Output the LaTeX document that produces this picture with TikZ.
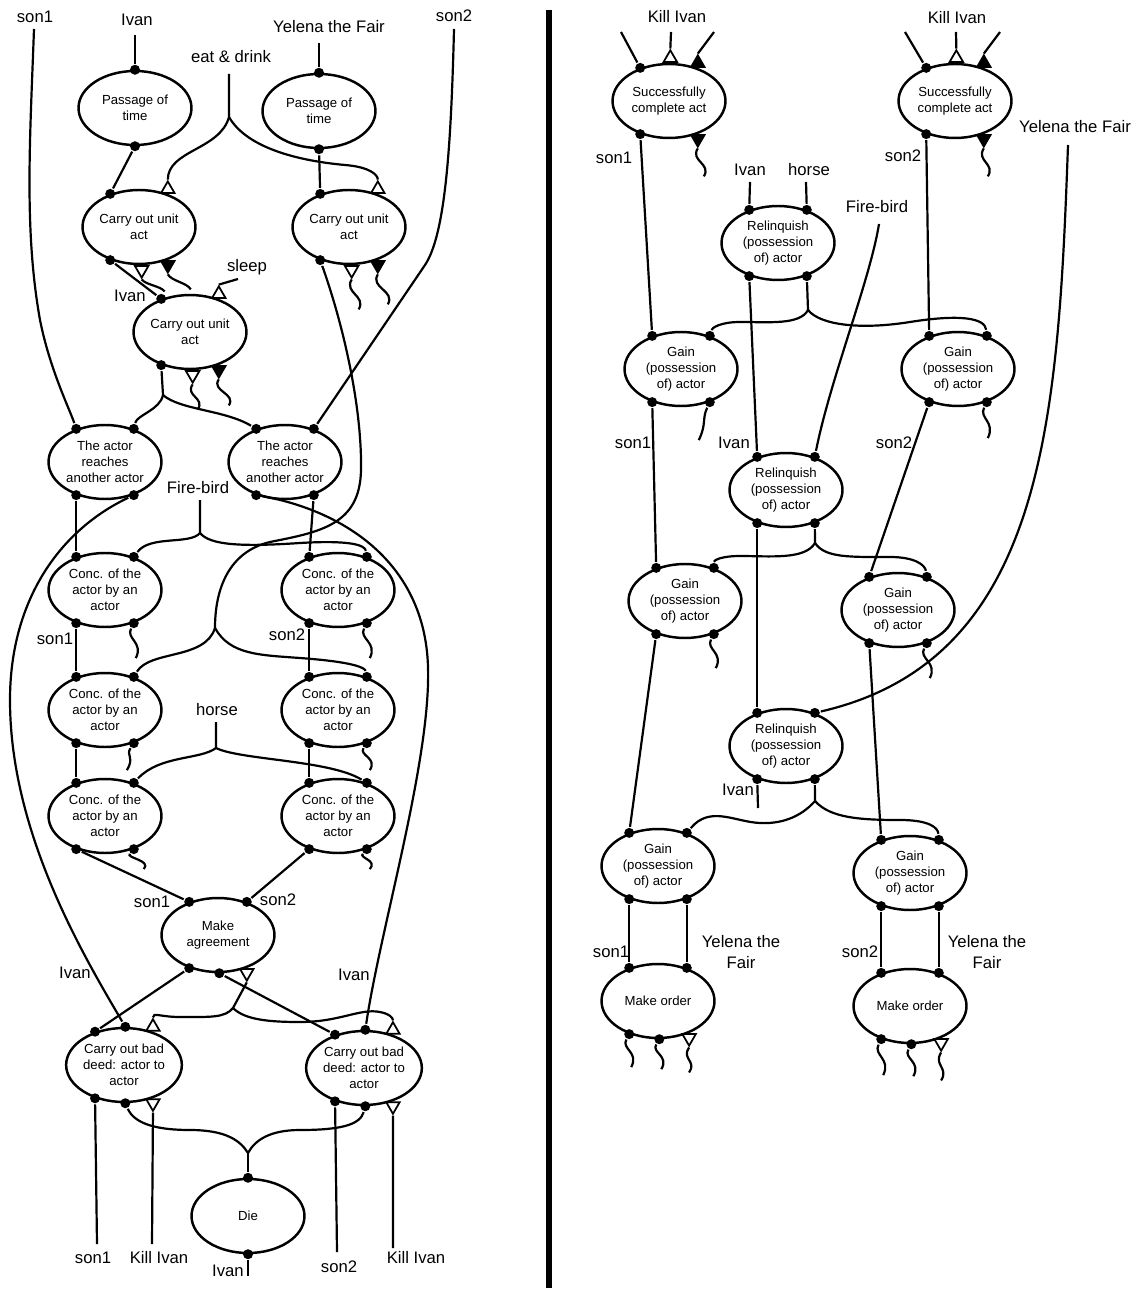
\documentclass[tikz,border=0pt]{standalone}
\usepackage{fontspec}
\setmainfont{Liberation Sans}
\usepackage{tikz}
\usetikzlibrary{positioning, shapes.geometric, calc}

\newcommand{\wig}[4][8]{\draw (#2) .. controls ($(#2)+({-1*(#1)},{0.45*#4})$) and ($(#2)+({#3+(#1)},{0.55*#4})$) .. ($(#2)+(#3,#4)$);}

\begin{document}
\begin{tikzpicture}[
    x=0.02cm, y=-0.02cm, line width=1.25pt,
    act/.style={
      draw,
      ellipse,
      line width=1.4pt,
      minimum width=2.26cm,
      minimum height=1.48cm,
      inner sep=0pt,
      align=center,
      font=\fontsize{7.5}{9.1}\selectfont
    },
    lbl/.style={
      inner sep=1pt,
      align=center,
      font=\fontsize{9.5}{11.5}\selectfont
    },
    dot/.style={circle, fill, inner sep=0pt, minimum size=0.2cm},
    port/.style={
      regular polygon,
      regular polygon sides=3,
      draw,
      line width=1pt,
      inner sep=0pt,
      minimum size=0.31cm,
      anchor=south
    },
    opentop/.style={port, fill=white},
    openbot/.style={port, fill=white, rotate=180},
    filltop/.style={port, fill=black},
    fillbot/.style={port, fill=black, rotate=180}
  ]

  \useasboundingbox (0,0) rectangle (1139,1293);

  \node[act] (pass1) at (135,108) {Passage of\\time};
  \node[act] (pass2) at (319,111) {Passage of\\time};
  \node[act] (unitA) at (139,227) {Carry out unit\\act};
  \node[act] (unitB) at (349,227) {Carry out unit\\act};
  \node[act] (unitC) at (190,332) {Carry out unit\\act};
  \node[act] (reachL) at (105,462) {The actor\\reaches\\another actor};
  \node[act] (reachR) at (285,462) {The actor\\reaches\\another actor};
  \node[act] (concL1) at (105,590) {Conc. of the\\actor by an\\actor};
  \node[act] (concR1) at (338,590) {Conc. of the\\actor by an\\actor};
  \node[act] (concL2) at (105,710) {Conc. of the\\actor by an\\actor};
  \node[act] (concR2) at (338,710) {Conc. of the\\actor by an\\actor};
  \node[act] (concL3) at (105,816) {Conc. of the\\actor by an\\actor};
  \node[act] (concR3) at (338,816) {Conc. of the\\actor by an\\actor};
  \node[act] (agree) at (218,935) {Make\\agreement};
  \node[act] (deedL) at (124,1065) {Carry out bad\\deed: actor to\\actor};
  \node[act] (deedR) at (364,1068) {Carry out bad\\deed: actor to\\actor};
  \node[act] (die) at (248,1216) {Die};

  \node[act] (succL) at (669,101) {Successfully\\complete act};
  \node[act] (succR) at (955,101) {Successfully\\complete act};
  \node[act] (relq1) at (778,243) {Relinquish\\(possession\\of) actor};
  \node[act] (gainL1) at (681,369) {Gain\\(possession\\of) actor};
  \node[act] (gainR1) at (958,369) {Gain\\(possession\\of) actor};
  \node[act] (relq2) at (786,490) {Relinquish\\(possession\\of) actor};
  \node[act] (gainL2) at (685,601) {Gain\\(possession\\of) actor};
  \node[act] (gainR2) at (898,610) {Gain\\(possession\\of) actor};
  \node[act] (relq3) at (786,746) {Relinquish\\(possession\\of) actor};
  \node[act] (gainL3) at (658,866) {Gain\\(possession\\of) actor};
  \node[act] (gainR3) at (910,873) {Gain\\(possession\\of) actor};
  \node[act] (orderL) at (658,1001) {Make order};
  \node[act] (orderR) at (910,1006) {Make order};

  \foreach \e in {reachL,reachR,concL1,concR1,concL2,concR2,concL3,concR3,
                  relq1,gainL1,gainR1,relq2,gainL2,gainR2,relq3,gainL3,gainR3} {
    \node[dot] (\e a) at (\e.131) {};
    \node[dot] (\e b) at (\e.49) {};
    \node[dot] (\e c) at (\e.-131) {};
    \node[dot] (\e d) at (\e.-49) {};
  }

  \node[dot] (pass1in) at (pass1.90) {};
  \node[dot] (pass1out) at (pass1.-90) {};
  \node[dot] (pass2in) at (pass2.90) {};
  \node[dot] (pass2out) at (pass2.-90) {};

  \node[dot] (unitAi) at (unitA.131) {};
  \node[opentop] (unitAt) at (unitA.49) {};
  \node[dot] (unitAo) at (unitA.-131) {};
  \node[openbot] (unitAu) at (unitA.-86) {};
  \node[fillbot] (unitAv) at (unitA.-49) {};

  \node[dot] (unitBi) at (unitB.131) {};
  \node[opentop] (unitBt) at (unitB.49) {};
  \node[dot] (unitBo) at (unitB.-131) {};
  \node[openbot] (unitBu) at (unitB.-86) {};
  \node[fillbot] (unitBv) at (unitB.-49) {};

  \node[dot] (unitCi) at (unitC.131) {};
  \node[opentop] (unitCt) at (unitC.49) {};
  \node[dot] (unitCo) at (unitC.-131) {};
  \node[openbot] (unitCu) at (unitC.-86) {};
  \node[fillbot] (unitCv) at (unitC.-49) {};

  \node[dot] (agreea) at (agree.131) {};
  \node[dot] (agreeb) at (agree.49) {};
  \node[dot] (agreec) at (agree.-131) {};
  \node[dot] (agreed) at (agree.-88) {};
  \node[openbot] (agreet) at (agree.-49) {};

  \node[dot] (deedLa) at (deedL.131) {};
  \node[dot] (deedLb) at (deedL.88) {};
  \node[opentop] (deedLt) at (deedL.49) {};
  \node[dot] (deedLc) at (deedL.-131) {};
  \node[dot] (deedLd) at (deedL.-88) {};
  \node[openbot] (deedLu) at (deedL.-49) {};

  \node[dot] (deedRa) at (deedR.131) {};
  \node[dot] (deedRb) at (deedR.88) {};
  \node[opentop] (deedRt) at (deedR.49) {};
  \node[dot] (deedRc) at (deedR.-131) {};
  \node[dot] (deedRd) at (deedR.-88) {};
  \node[openbot] (deedRu) at (deedR.-49) {};

  \node[dot] (diein) at (die.90) {};
  \node[dot] (dieout) at (die.-90) {};

  \node[dot] (succLa) at (succL.131) {};
  \node[opentop] (succLt) at (succL.88) {};
  \node[filltop] (succLf) at (succL.49) {};
  \node[dot] (succLc) at (succL.-131) {};
  \node[fillbot] (succLg) at (succL.-49) {};

  \node[dot] (succRa) at (succR.131) {};
  \node[opentop] (succRt) at (succR.88) {};
  \node[filltop] (succRf) at (succR.49) {};
  \node[dot] (succRc) at (succR.-131) {};
  \node[fillbot] (succRg) at (succR.-49) {};

  \node[dot] (orderLa) at (orderL.131) {};
  \node[dot] (orderLb) at (orderL.49) {};
  \node[dot] (orderLc) at (orderL.-131) {};
  \node[dot] (orderLd) at (orderL.-88) {};
  \node[openbot] (orderLu) at (orderL.-46) {};

  \node[dot] (orderRa) at (orderR.131) {};
  \node[dot] (orderRb) at (orderR.49) {};
  \node[dot] (orderRc) at (orderR.-131) {};
  \node[dot] (orderRd) at (orderR.-88) {};
  \node[openbot] (orderRu) at (orderR.-46) {};

  \node[lbl] (son1top) at (35,17) {son1};
  \node[lbl] (ivantop) at (137,20) {Ivan};
  \node[lbl] (eat) at (231,57) {eat \& drink};
  \node[lbl] (yelenatop) at (329,27) {Yelena the Fair};
  \node[lbl] (son2top) at (454,16) {son2};
  \node[lbl] (sleep) at (247,267) {sleep};
  \node[lbl] (ivanC) at (130,296) {Ivan};
  \node[lbl] (firebirdL) at (198,488) {Fire-bird};
  \node[lbl] (son1conc) at (55,639) {son1};
  \node[lbl] (son2conc) at (287,635) {son2};
  \node[lbl] (horseL) at (217,710) {horse};
  \node[lbl] (son1agree) at (152,902) {son1};
  \node[lbl] (son2agree) at (278,900) {son2};
  \node[lbl] (ivanL) at (75,973) {Ivan};
  \node[lbl] (ivanR) at (354,975) {Ivan};
  \node[lbl] (son1bot) at (93,1258) {son1};
  \node[lbl] (killL) at (159,1258) {Kill Ivan};
  \node[lbl] (son2bot) at (339,1267) {son2};
  \node[lbl] (killR) at (416,1258) {Kill Ivan};
  \node[lbl] (ivanbot) at (228,1271) {Ivan};

  \node[lbl] (killtopL) at (677,17) {Kill Ivan};
  \node[lbl] (killtopR) at (957,18) {Kill Ivan};
  \node[lbl] (son1succ) at (614,158) {son1};
  \node[lbl] (son2succ) at (903,156) {son2};
  \node[lbl] (ivanrel) at (750,170) {Ivan};
  \node[lbl] (horseR) at (809,170) {horse};
  \node[lbl] (firebirdR) at (877,207) {Fire-bird};
  \node[lbl] (yelenaR) at (1075,127) {Yelena the Fair};
  \node[lbl] (son1gain) at (633,443) {son1};
  \node[lbl] (ivangain) at (734,443) {Ivan};
  \node[lbl] (son2gain) at (894,443) {son2};
  \node[lbl] (ivanrel3) at (738,790) {Ivan};
  \node[lbl] (son1order) at (611,952) {son1};
  \node[lbl] (yelenaL) at (741,952) {Yelena the\\Fair};
  \node[lbl] (son2order) at (860,952) {son2};
  \node[lbl] (yelenaO) at (987,952) {Yelena the\\Fair};

  \coordinate (son1end) at (34,29);
  \coordinate (ivanend) at (135,35);
  \coordinate (eatend) at (229,74);
  \coordinate (eatj) at (229,117);
  \coordinate (yelenaend) at (319,43);
  \coordinate (son2end) at (454,29);
  \coordinate (sleepend) at (238,279);
  \coordinate (unitCj) at (163,395);
  \coordinate (longj) at (215,628);
  \coordinate (firebirdend) at (200,500);
  \coordinate (firebirdj) at (200,533);
  \coordinate (horseend) at (216,722);
  \coordinate (horsej) at (216,748);
  \coordinate (agreej) at (233,1008);
  \coordinate (diej) at (248,1153);
  \coordinate (endA) at (97,1244);
  \coordinate (endB) at (152,1244);
  \coordinate (endC) at (337,1252);
  \coordinate (endD) at (393,1248);
  \coordinate (endE) at (248,1276);

  \coordinate (killLa) at (621,32);
  \coordinate (killLb) at (671,32);
  \coordinate (killLc) at (714,32);
  \coordinate (killRa) at (905,32);
  \coordinate (killRb) at (956,32);
  \coordinate (killRc) at (1000,32);
  \coordinate (ivanrelend) at (750,182);
  \coordinate (horserelend) at (806,182);
  \coordinate (firebirdRend) at (879,224);
  \coordinate (yelenaRend) at (1068,145);
  \coordinate (relq1j) at (808,310);
  \coordinate (relq2j) at (815,543);
  \coordinate (relq3j) at (815,801);
  \coordinate (ivanrelbot) at (758,808);

  \draw (son1end) .. controls (30,140) and (24,230) .. (40,320) .. controls (50,370) and (70,410) .. (reachLa);
  \draw (ivanend) -- (pass1in);
  \draw (pass1out) -- (unitAi);
  \draw (eatend) -- (eatj) .. controls (220,150) and (168,150) .. (unitAt.north);
  \draw (eatj) .. controls (245,145) and (290,160) .. (345,165) .. controls (370,167) and (378,175) .. (unitBt.north);
  \draw (yelenaend) -- (pass2in);
  \draw (pass2out) -- (unitBi);
  \draw (son2end) .. controls (451,150) and (445,235) .. (425,265) -- (reachRb);
  \draw (unitAo) -- (unitCi);
  \draw (sleepend) -- (unitCt.north);
  \wig[-4]{unitAu.north}{23}{12}
  \wig[-4]{unitAv.north}{23}{15}
  \wig{unitBu.north}{7}{30}
  \wig{unitBv.north}{10}{30}
  \draw (unitBo) .. controls (345,330) and (362,410) .. (361,470) .. controls (360,525) and (320,532) .. (270,542) .. controls (228,552) and (215,590) .. (longj);
  \draw (longj) .. controls (205,660) and (150,650) .. (concL2b);
  \draw (longj) .. controls (230,655) and (260,655) .. (300,658) .. controls (355,662) and (365,668) .. (concR2b);
  \draw (unitCo) -- (unitCj) .. controls (160,410) and (137,415) .. (reachLb);
  \draw (unitCj) .. controls (180,410) and (225,410) .. (reachRa);
  \wig{unitCu.north}{5}{25}
  \wig{unitCv.north}{10}{26}
  \draw (reachLc) -- (concL1a);
  \draw (reachLd) .. controls (60,530) and (10,600) .. (10,700) .. controls (10,830) and (80,950) .. (deedLb);
  \draw (reachRd) -- (concR1a);
  \draw (reachRc) .. controls (340,510) and (425,560) .. (428,667) .. controls (431,760) and (380,930) .. (deedRb);
  \draw (firebirdend) -- (firebirdj) .. controls (190,545) and (150,535) .. (concL1b);
  \draw (firebirdj) .. controls (210,545) and (240,547) .. (300,543) .. controls (350,540) and (365,545) .. (concR1b);
  \draw (concL1c) -- (concL2a);
  \wig{concL1d}{2}{35}
  \draw (concR1c) -- (concR2a);
  \wig{concR1d}{3}{35}
  \draw (concL2c) -- (concL3a);
  \wig{concL2d}{-7}{27}
  \draw (concR2c) -- (concR3a);
  \wig{concR2d}{3}{27}
  \draw (horseend) -- (horsej) .. controls (200,760) and (160,755) .. (concL3b);
  \draw (horsej) .. controls (240,760) and (330,760) .. (concR3b);
  \draw (concL3c) -- (agreea);
  \wig{concL3d}{10}{20}
  \draw (concR3c) -- (agreeb);
  \wig{concR3d}{3}{20}
  \draw (agreec) -- (deedLa);
  \draw (agreed) -- (deedRa);
  \draw (agreet.north) -- (agreej) .. controls (225,1018) and (210,1017) .. (180,1017) .. controls (160,1017) and (153,1012) .. (deedLt.north);
  \draw (agreej) .. controls (245,1020) and (270,1022) .. (300,1022) .. controls (340,1022) and (360,1008) .. (380,1012) .. controls (390,1014) and (393,1018) .. (deedRt.north);
  \draw (deedLc) -- (endA);
  \draw (deedLu.north) -- (endB);
  \draw (deedLd) .. controls (135,1125) and (160,1130) .. (190,1130) .. controls (225,1130) and (240,1140) .. (diej);
  \draw (deedRc) -- (endC);
  \draw (deedRu.north) -- (endD);
  \draw (deedRd) .. controls (360,1125) and (340,1130) .. (300,1130) .. controls (270,1130) and (255,1140) .. (diej);
  \draw (diej) -- (diein);
  \draw (dieout) -- (endE);

  \draw[line width=0.12cm] (549,10) -- (549,1288);

  \draw (killLa) -- (succLa);
  \draw (killLb) -- (succLt.north);
  \draw (killLc) -- (succLf.north);
  \draw (killRa) -- (succRa);
  \draw (killRb) -- (succRt.north);
  \draw (killRc) -- (succRf.north);
  \draw (succLc) -- (gainL1a);
  \wig{succLg.north}{6}{28}
  \draw (succRc) -- (gainR1a);
  \wig{succRg.north}{4}{28}
  \draw (ivanrelend) -- (relq1a);
  \draw (horserelend) -- (relq1b);
  \draw (relq1c) -- (relq2a);
  \draw (relq1d) -- (relq1j) .. controls (800,325) and (770,322) .. (740,322) .. controls (720,322) and (712,328) .. (gainL1b);
  \draw (relq1j) .. controls (820,325) and (860,330) .. (910,322) .. controls (960,314) and (985,318) .. (gainR1b);
  \draw (firebirdRend) .. controls (870,280) and (830,380) .. (relq2b);
  \draw (yelenaRend) .. controls (1058,420) and (1045,660) .. (relq3b);
  \draw (gainL1c) -- (gainL2a);
  \wig{gainL1d}{-11}{38}
  \draw (gainR1c) -- (gainR2a);
  \wig{gainR1d}{1}{36}
  \draw (relq2c) -- (relq3a);
  \draw (relq2d) -- (relq2j) .. controls (805,560) and (770,556) .. (740,556) .. controls (722,556) and (714,560) .. (gainL2b);
  \draw (relq2j) .. controls (825,558) and (850,557) .. (890,557) .. controls (915,557) and (925,565) .. (gainR2b);
  \draw (gainL2c) -- (gainL3a);
  \wig{gainL2d}{2}{34}
  \draw (gainR2c) -- (gainR3a);
  \wig{gainR2d}{3}{35}
  \draw (relq3c) -- (ivanrelbot);
  \draw (relq3d) -- (relq3j) .. controls (800,818) and (780,824) .. (760,823) .. controls (735,822) and (710,805) .. (gainL3b);
  \draw (relq3j) .. controls (830,818) and (860,820) .. (900,820) .. controls (930,820) and (938,828) .. (gainR3b);
  \draw (gainL3c) -- (orderLa);
  \draw (gainL3d) -- (orderLb);
  \draw (gainR3c) -- (orderRa);
  \draw (gainR3d) -- (orderRb);
  \wig{orderLc}{2}{33}
  \wig{orderLd}{2}{30}
  \wig{orderLu.north}{0}{25}
  \wig{orderRc}{2}{36}
  \wig{orderRd}{2}{32}
  \wig{orderRu.north}{0}{28}

\end{tikzpicture}
\end{document}
